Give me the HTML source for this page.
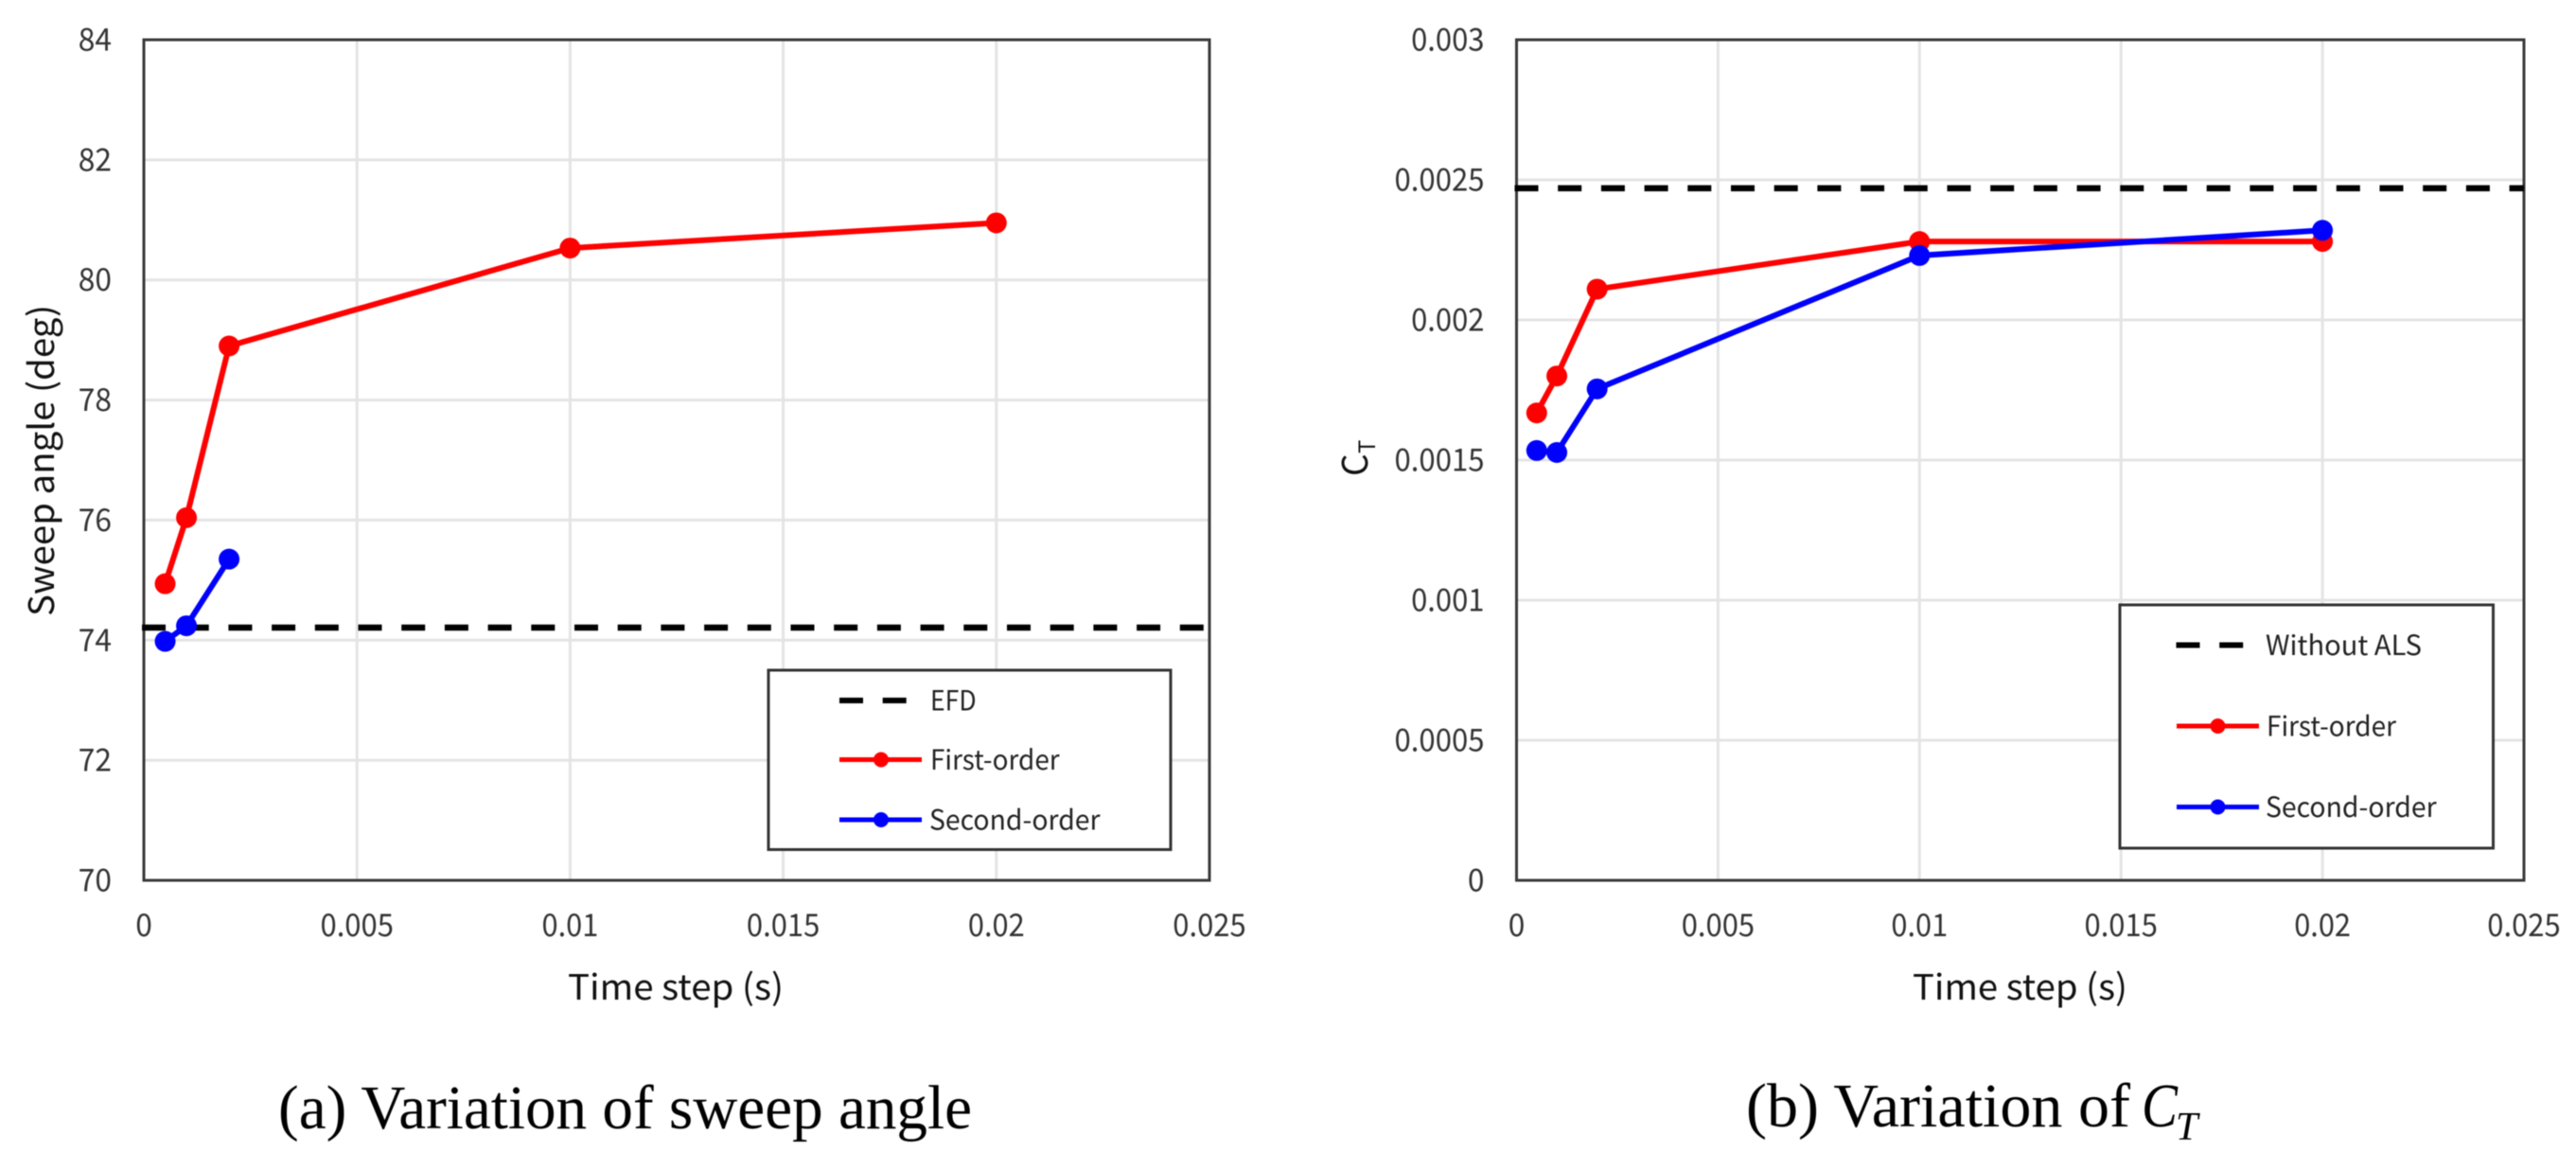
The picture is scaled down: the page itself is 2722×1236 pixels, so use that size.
<!DOCTYPE html>
<html lang="en">
<head>
<meta charset="utf-8">
<title>Variation of sweep angle and thrust coefficient</title>
<style>
html,body{margin:0;padding:0;background:#fff;width:2722px;height:1236px;overflow:hidden}
svg{display:block;filter:blur(0.6px)}
.tick{font-family:"Noto Sans CJK KR","Liberation Sans",sans-serif;font-size:33px;fill:#333}
.title{font-family:"Noto Sans CJK KR","Liberation Sans",sans-serif;font-size:37px;fill:#111}
.leg{font-family:"Noto Sans CJK KR","Liberation Sans",sans-serif;font-size:29px;fill:#222}
.cap{font-family:"Liberation Serif","Noto Serif CJK SC",serif;font-size:66px;fill:#000}
</style>
</head>
<body>
<svg id="figure" xmlns="http://www.w3.org/2000/svg" width="2722" height="1236" viewBox="0 0 2722 1236">
<rect x="0" y="0" width="2722" height="1236" fill="#fff"/>
<g id="chartA"></g>
<g id="chartB"></g>

<text class="title" x="600" y="1056" textLength="228" lengthAdjust="spacingAndGlyphs">Time step (s)</text>
<text class="title" transform="translate(57 651) rotate(-90)" x="0" y="0" textLength="329" lengthAdjust="spacingAndGlyphs">Sweep angle (deg)</text>
<text class="title" x="2021" y="1056" textLength="227" lengthAdjust="spacingAndGlyphs">Time step (s)</text>
<g transform="translate(1445 503) rotate(-90)">
<text class="title" x="0" y="0">C</text>
<text class="title" x="24" y="8" style="font-size:24px">T</text>
</g>

<g>
<rect x="812" y="708" width="425" height="189.5" fill="#fff" stroke="#333" stroke-width="3"/>
<g>
<line x1="887" y1="740" x2="958" y2="740" stroke="#000" stroke-width="6" stroke-dasharray="25 20.7"/>
<text class="leg" x="983" y="750.5" textLength="48.6" lengthAdjust="spacingAndGlyphs">EFD</text>
</g>
<g>
<line x1="887" y1="802.5" x2="974" y2="802.5" stroke="#f00" stroke-width="5"/>
<circle cx="931" cy="802.5" r="8" fill="#f00"/>
<text class="leg" x="983" y="813" textLength="136.6" lengthAdjust="spacingAndGlyphs">First-order</text>
</g>
<g>
<line x1="887" y1="866" x2="974" y2="866" stroke="#00f" stroke-width="5"/>
<circle cx="931" cy="866" r="8" fill="#00f"/>
<text class="leg" x="982" y="876.5" textLength="180.5" lengthAdjust="spacingAndGlyphs">Second-order</text>
</g>
</g>

<g>
<rect x="2240" y="639" width="394.5" height="257" fill="#fff" stroke="#333" stroke-width="3"/>
<g>
<line x1="2299.5" y1="681.5" x2="2371" y2="681.5" stroke="#000" stroke-width="6" stroke-dasharray="25 20.7"/>
<text class="leg" x="2394" y="692" textLength="165" lengthAdjust="spacingAndGlyphs">Without ALS</text>
</g>
<g>
<line x1="2300" y1="767" x2="2387" y2="767" stroke="#f00" stroke-width="5"/>
<circle cx="2343.5" cy="767" r="8" fill="#f00"/>
<text class="leg" x="2395" y="777.5" textLength="137" lengthAdjust="spacingAndGlyphs">First-order</text>
</g>
<g>
<line x1="2300" y1="852.5" x2="2387" y2="852.5" stroke="#00f" stroke-width="5"/>
<circle cx="2343.5" cy="852.5" r="8" fill="#00f"/>
<text class="leg" x="2394" y="863" textLength="180.6" lengthAdjust="spacingAndGlyphs">Second-order</text>
</g>
</g>

<text class="cap" x="294" y="1192" textLength="733" lengthAdjust="spacingAndGlyphs">(a) Variation of sweep angle</text>
<text class="cap" x="1845" y="1190" textLength="406" lengthAdjust="spacingAndGlyphs">(b) Variation of</text>
<text class="cap" x="2263" y="1190" font-style="italic" textLength="38" lengthAdjust="spacingAndGlyphs">C</text>
<text class="cap" x="2299" y="1204" font-style="italic" style="font-size:42px">T</text>
</svg>

<script>
// Shared x-axis data
const timeSteps = [0.0005, 0.001, 0.002, 0.01, 0.02];
const xTickValues = [0, 0.005, 0.01, 0.015, 0.02, 0.025];
const xTickLabels = ['0', '0.005', '0.01', '0.015', '0.02', '0.025'];

// Chart (a): sweep angle
const sweepYTicks = [70, 72, 74, 76, 78, 80, 82, 84];
const sweepYLabels = ['70', '72', '74', '76', '78', '80', '82', '84'];
const sweepFirstOrder = [74.94, 76.04, 78.9, 80.53, 80.95];
const sweepSecondOrder = [73.98, 74.24, 75.35];
const sweepEfd = 74.21;

// Chart (b): thrust coefficient
const thrustYTicks = [0, 0.0005, 0.001, 0.0015, 0.002, 0.0025, 0.003];
const thrustYLabels = ['0', '0.0005', '0.001', '0.0015', '0.002', '0.0025', '0.003'];
const thrustFirstOrder = [0.001668, 0.0018, 0.00211, 0.00228, 0.00228];
const thrustSecondOrder = [0.001534, 0.001527, 0.001754, 0.00223, 0.00232];
const thrustWithoutAls = 0.00247;

const NS = 'http://www.w3.org/2000/svg';

function make(parent, tag, attrs) {
  const el = document.createElementNS(NS, tag);
  for (const k in attrs) el.setAttribute(k, attrs[k]);
  parent.appendChild(el);
  return el;
}

function labelWidth(label) {
  const dots = label.split('.').length - 1;
  return (label.length - dots) * 17.6 + dots * 7;
}

function drawSeries(parent, name, xs, ys, color, xFn, yFn) {
  const pts = ys.map(function (v, i) { return xFn(xs[i]) + ',' + yFn(v); }).join(' ');
  const line = make(parent, 'polyline', { points: pts, fill: 'none', stroke: color, 'stroke-width': 6, 'stroke-linejoin': 'round' });
  
  
  ys.forEach(function (v, i) {
    const dot = make(parent, 'circle', { cx: xFn(xs[i]), cy: yFn(v), r: 11, fill: color });
    
    
  });
}

function drawChart(rootId, box, xMax, yMin, yMax, yTicks, yLabels, refValue, refName, first, second, dashOrigin) {
  const root = document.getElementById(rootId);
  const xFn = function (v) { return box.l + (v / xMax) * (box.r - box.l); };
  const yFn = function (v) { return box.b - ((v - yMin) / (yMax - yMin)) * (box.b - box.t); };

  xTickValues.forEach(function (v) {
    if (v === 0 || v === xMax) return;
    const g = make(root, 'line', { x1: xFn(v), x2: xFn(v), y1: box.t, y2: box.b, stroke: '#e4e4e4', 'stroke-width': 3 });
    
    
  });
  yTicks.forEach(function (v) {
    if (v === yMin || v === yMax) return;
    const g = make(root, 'line', { x1: box.l, x2: box.r, y1: yFn(v), y2: yFn(v), stroke: '#e4e4e4', 'stroke-width': 3 });
    
    
  });

  const frame = make(root, 'rect', { x: box.l, y: box.t, width: box.r - box.l, height: box.b - box.t, fill: 'none', stroke: '#3a3a3a', 'stroke-width': 3 });
  
  

  xTickValues.forEach(function (v, i) {
    const t = make(root, 'text', { x: xFn(v), y: 989, 'text-anchor': 'middle', class: 'tick', textLength: labelWidth(xTickLabels[i]), lengthAdjust: 'spacingAndGlyphs' });
    t.textContent = xTickLabels[i];
    
    
  });
  yTicks.forEach(function (v, i) {
    const t = make(root, 'text', { x: box.l - 34, y: yFn(v) + 11.5, 'text-anchor': 'end', class: 'tick', textLength: labelWidth(yLabels[i]), lengthAdjust: 'spacingAndGlyphs' });
    t.textContent = yLabels[i];
    
    
  });

  const ref = make(root, 'line', { x1: box.l - 2, x2: box.r, y1: yFn(refValue), y2: yFn(refValue), stroke: '#000', 'stroke-width': 6.5, 'stroke-dasharray': '25 20.7', 'stroke-dashoffset': dashOrigin });
  
  

  drawSeries(root, 'first-order', timeSteps, first, '#f00', xFn, yFn);
  drawSeries(root, 'second-order', timeSteps, second, '#00f', xFn, yFn);
}

drawChart('chartA', { l: 152, r: 1278, t: 42, b: 930 }, 0.025, 70, 84, sweepYTicks, sweepYLabels, sweepEfd, 'efd-reference-line', sweepFirstOrder, sweepSecondOrder, 0);
drawChart('chartB', { l: 1602.5, r: 2667, t: 42, b: 930 }, 0.025, 0, 0.003, thrustYTicks, thrustYLabels, thrustWithoutAls, 'without-als-reference-line', thrustFirstOrder, thrustSecondOrder, 0);
</script>
</body>
</html>
